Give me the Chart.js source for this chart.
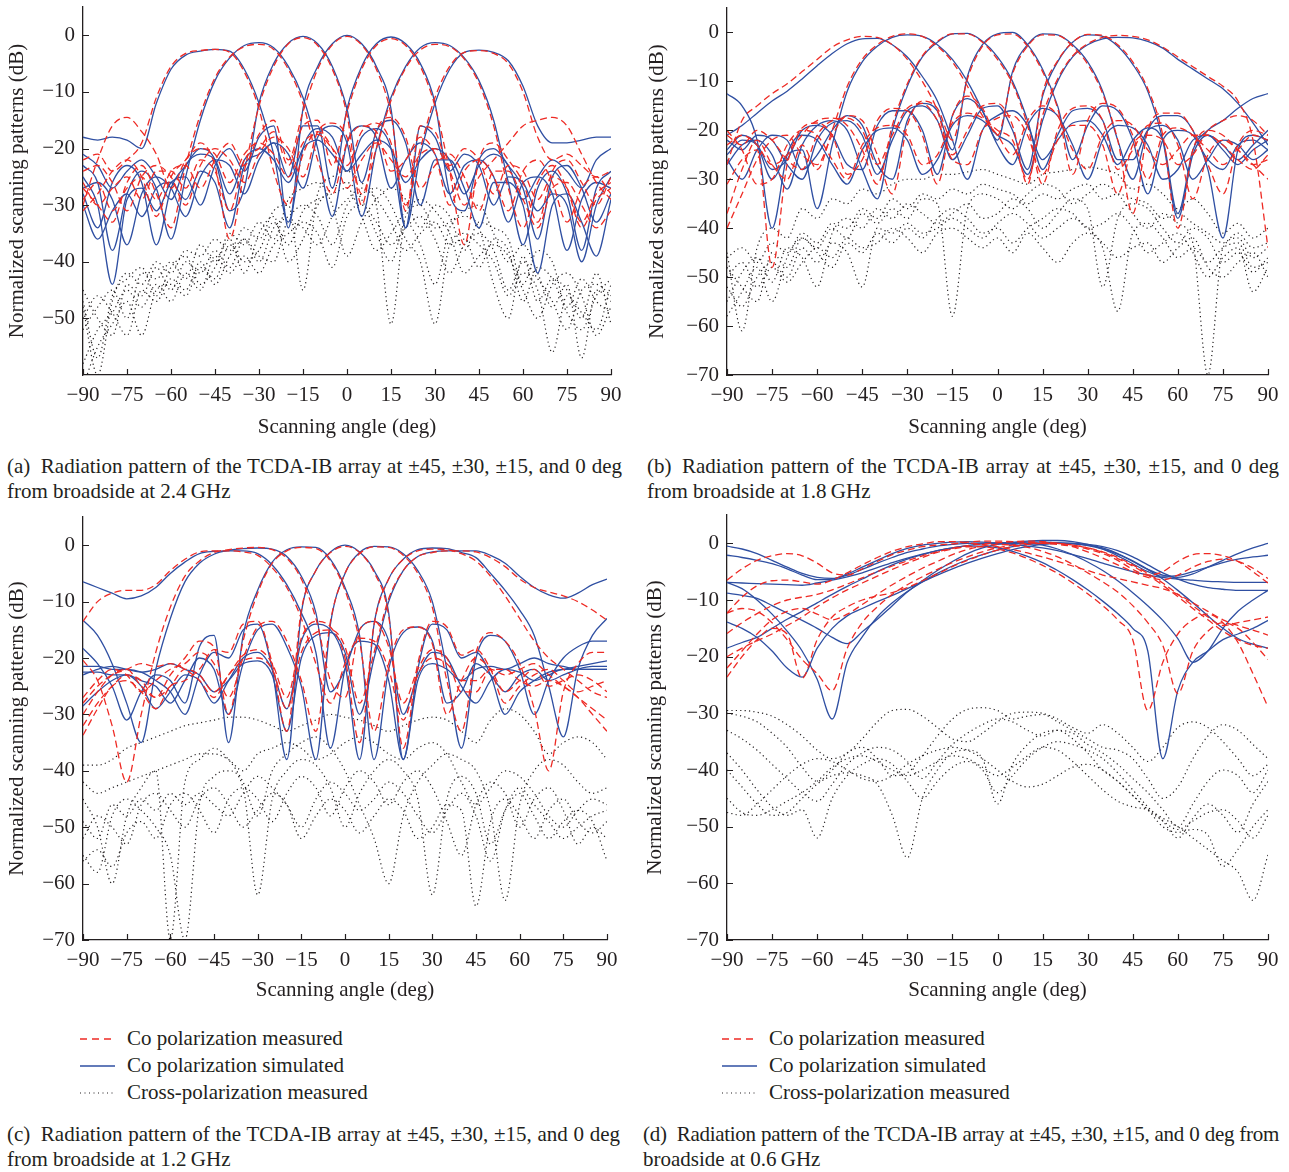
<!DOCTYPE html>
<html>
<head>
<meta charset="utf-8">
<script src="https://cdn.jsdelivr.net/npm/chart.js@4.4.1/dist/chart.umd.min.js"></script>
<style>
  body { margin: 0; width: 1289px; height: 1172px; background: #fff; position: relative; font-family: "Liberation Serif", "DejaVu Serif", serif; color: #231f20; }
  canvas { position: absolute; }
  .cap { position: absolute; font-size: 21px; line-height: 25px; }
  .cap .l1 { text-align: justify; text-align-last: justify; white-space: nowrap; }
  .cap.tight .l1 { letter-spacing: -0.3px; word-spacing: -1px; }
  .leg { position: absolute; font-size: 21px; }
  .leg div { display: flex; align-items: center; height: 27px; }
  .leg svg { margin-right: 12px; }
</style>
</head>
<body>
<canvas id="ca" width="630" height="445" style="left:0;top:0"></canvas>
<canvas id="cb" width="644" height="445" style="left:640px;top:0"></canvas>
<canvas id="cc" width="630" height="505" style="left:0;top:505px"></canvas>
<canvas id="cd" width="644" height="505" style="left:640px;top:505px"></canvas>

<div class="cap" style="left:7px;top:454px;width:615px">
  <div class="l1">(a)&ensp;Radiation pattern of the TCDA-IB array at ±45, ±30, ±15, and 0 deg</div>
  <div>from broadside at 2.4&#8201;GHz</div>
</div>
<div class="cap" style="left:647px;top:454px;width:632px">
  <div class="l1">(b)&ensp;Radiation pattern of the TCDA-IB array at ±45, ±30, ±15, and 0 deg</div>
  <div>from broadside at 1.8&#8201;GHz</div>
</div>
<div class="cap" style="left:7px;top:1122px;width:613px">
  <div class="l1">(c)&ensp;Radiation pattern of the TCDA-IB array at ±45, ±30, ±15, and 0 deg</div>
  <div>from broadside at 1.2&#8201;GHz</div>
</div>
<div class="cap tight" style="left:643px;top:1122px;width:636px">
  <div class="l1">(d)&ensp;Radiation pattern of the TCDA-IB array at ±45, ±30, ±15, and 0 deg from</div>
  <div>broadside at 0.6&#8201;GHz</div>
</div>

<div class="leg" style="left:80px;top:1025px">
  <div><svg width="35" height="10"><line x1="0" y1="5" x2="35" y2="5" stroke="#ee2a24" stroke-width="1.3" stroke-dasharray="7 5"/></svg>Co polarization measured</div>
  <div><svg width="35" height="10"><line x1="0" y1="5" x2="35" y2="5" stroke="#2f4fa2" stroke-width="1.5"/></svg>Co polarization simulated</div>
  <div><svg width="35" height="10"><line x1="0" y1="5" x2="35" y2="5" stroke="#231f20" stroke-width="1.2" stroke-dasharray="1 3.5"/></svg>Cross-polarization measured</div>
</div>
<div class="leg" style="left:722px;top:1025px">
  <div><svg width="35" height="10"><line x1="0" y1="5" x2="35" y2="5" stroke="#ee2a24" stroke-width="1.3" stroke-dasharray="7 5"/></svg>Co polarization measured</div>
  <div><svg width="35" height="10"><line x1="0" y1="5" x2="35" y2="5" stroke="#2f4fa2" stroke-width="1.5"/></svg>Co polarization simulated</div>
  <div><svg width="35" height="10"><line x1="0" y1="5" x2="35" y2="5" stroke="#231f20" stroke-width="1.2" stroke-dasharray="1 3.5"/></svg>Cross-polarization measured</div>
</div>

<script>
// scanning angle grid (deg) shared by every curve
const angles = [-90,-85,-80,-75,-70,-65,-60,-55,-50,-45,-40,-35,-30,-25,-20,-15,-10,-5,0,5,10,15,20,25,30,35,40,45,50,55,60,65,70,75,80,85,90];
const xTicks = [-90,-75,-60,-45,-30,-15,0,15,30,45,60,75,90];
const yTicksA = [0,-10,-20,-30,-40,-50];
const yTicksB = [0,-10,-20,-30,-40,-50,-60,-70];

// (a) 2.4 GHz - simulated co-pol, beams at -45..45
const a_sim_n45 = [-18,-18.5,-18,-18.5,-20,-12,-6,-3.5,-2.8, -2.5,-2.8,-6,-12,-21,-33,-20,-16.5,-18, -24, -21,-18.5,-20,-26,-22,-20,-22,-28,-23, -21,-23,-29,-25,-22,-24,-27,-22,-20];
const a_sim_n30 = [-23,-26,-38,-28,-24,-27,-36,-25,-15, -8,-4,-1.8,-1.3,-2.2,-5.5,-11,-20,-32, -19, -16,-18,-27,-22,-19,-21,-28,-23,-22, -25,-33,-26,-25,-28,-38,-29,-26,-27];
const a_sim_n15 = [-28,-34,-26,-23,-26,-37,-27,-23,-20, -22,-31,-27,-12,-5,-1.4,-0.2,-1.5,-5.5, -13, -26,-17,-15,-19,-30,-22,-22,-27,-34, -26,-26,-30,-42,-30,-28,-33,-39,-29];
const a_sim_0 = [-25,-30,-44,-29,-27,-31,-26,-25,-30, -23,-20,-24,-18,-16,-34,-13,-5.5,-1.5, 0, -1.5,-5.5,-13,-34,-16,-18,-24,-21,-23, -30,-25,-26,-31,-28,-30,-40,-30,-25];
const a_sim_p15 = [-30,-36,-31,-28,-32,-27,-26,-29,-24, -26,-34,-23,-21,-19,-25,-16,-16,-27, -13, -5.5,-1.5,-0.3,-1.5,-5,-12,-28,-31,-22, -20,-23,-27,-36,-25,-23,-27,-33,-28];
const a_sim_p30 = [-27,-26,-29,-37,-28,-25,-27,-32,-25, -22,-23,-28,-22,-19,-21,-27,-18,-16, -19, -32,-20,-11,-5.5,-2.2,-1.3,-1.8,-4,-8, -15,-26,-37,-27,-24,-28,-38,-27,-24];
const a_sim_p45 = [-21,-23,-27,-24,-22,-25,-29,-23,-21, -22,-28,-22,-20,-22,-26,-20,-18.5,-21, -24, -18,-16.5,-20,-34,-21,-12,-6,-3,-2.6, -3,-4.5,-9,-16,-19,-19,-18.5,-18,-18];
// (a) measured co-pol
const a_mea_n45 = [-22,-21,-24,-22,-19,-11,-5.5,-3.2,-2.7, -2.5,-3,-6.5,-13,-24,-30,-21,-17,-20, -27, -22,-19,-22,-25,-21,-20,-24,-30,-25, -22,-19,-16,-15,-14.5,-16,-21,-26,-29];
const a_mea_n30 = [-27,-30,-33,-26,-23,-28,-34,-23,-14, -7.5,-3.8,-2,-1.6,-2.5,-6,-12,-22,-28, -19, -16,-17,-24,-22,-18,-21,-30,-24,-22, -25,-31,-24,-22,-26,-33,-27,-25,-28];
const a_mea_n15 = [-31,-28,-24,-22,-25,-32,-25,-22,-19, -23,-36,-24,-12.5,-5.5,-1.5,-0.4,-1.8,-6, -14, -30,-17,-14.5,-18,-27,-23,-21,-25,-31, -24,-24,-29,-34,-27,-26,-30,-34,-31];
const a_mea_0 = [-29,-26,-31,-27,-25,-29,-24,-23,-27, -22,-19,-23,-17.5,-15,-22,-13.5,-6,-1.7, -0.2, -1.7,-6,-14,-31,-16,-17,-23,-20,-22, -28,-23,-24,-29,-25,-27,-33,-28,-26];
const a_mea_p15 = [-26,-30,-27,-25,-29,-24,-24,-27,-22, -24,-31,-22,-20,-17,-23,-16,-15,-23, -13.5, -6,-1.8,-0.6,-1.8,-5.5,-12.5,-24,-37,-22, -19,-22,-26,-33,-24,-22,-26,-30,-25];
const a_mea_p30 = [-24,-23,-26,-31,-25,-23,-25,-30,-23, -20,-22,-26,-21,-18,-20,-25,-17,-15.5, -18, -28,-20,-11.5,-5.8,-2.6,-1.6,-2,-4.2,-8.5, -16,-27,-34,-26,-23,-27,-34,-29,-27];
const a_mea_p45 = [-30,-22,-16,-14.5,-17,-21,-27,-22,-20, -21,-26,-21,-19,-21,-25,-19,-17.5,-20, -23, -17,-15.5,-19,-30,-20,-11,-5.5,-3,-2.7, -3.2,-5,-10,-18,-22,-21,-23,-25,-24];
// (a) measured cross-pol
const a_x1 = [-48,-60,-47,-42,-44,-40,-42,-38,-39, -36,-38,-34,-36,-31,-30,-45,-28,-25, -24, -26,-30,-51,-32,-30,-34,-33,-31,-30, -35,-40,-37,-42,-48,-44,-57,-45,-47];
const a_x2 = [-45,-50,-53,-44,-46,-41,-45,-40,-42, -38,-41,-36,-40,-34,-32,-30,-32,-37, -30, -28,-27,-30,-36,-40,-51,-37,-35,-37, -40,-46,-42,-45,-56,-46,-49,-52,-44];
const a_x3 = [-52,-48,-45,-50,-42,-43,-40,-43,-37, -40,-35,-37,-33,-36,-29,-27,-26,-30, -39, -33,-29,-27,-29,-34,-30,-32,-38,-33, -34,-36,-44,-38,-40,-48,-43,-47,-49];
const a_x4 = [-58,-52,-49,-45,-48,-44,-47,-42,-45, -39,-42,-39,-42,-37,-35,-33,-35,-41, -32, -30,-33,-37,-34,-32,-36,-42,-37,-35, -38,-45,-40,-43,-47,-52,-45,-44,-46];
const a_x5 = [-62,-55,-51,-47,-53,-45,-44,-46,-41, -43,-37,-40,-38,-33,-37,-31,-29,-28, -27, -32,-38,-35,-31,-29,-31,-35,-42,-39, -37,-39,-45,-50,-44,-42,-46,-53,-48];
const a_x6 = [-50,-46,-49,-53,-45,-47,-43,-45,-40, -44,-39,-36,-39,-40,-33,-34,-37,-32, -29, -27,-29,-33,-38,-35,-33,-37,-36,-41, -36,-38,-47,-41,-43,-49,-52,-46,-43];
const a_x7 = [-47,-57,-46,-43,-41,-46,-41,-39,-44, -41,-36,-42,-35,-32,-40,-36,-30,-27, -26, -29,-35,-40,-33,-37,-44,-34,-32,-34, -44,-50,-39,-47,-43,-45,-50,-42,-51];

// (b) 1.8 GHz
const b_sim_n45 = [-21,-19,-16.5,-14,-12,-9.5,-6.8,-4.3,-2.3, -1.3,-1.2,-2.5,-5,-9,-14,-22,-30,-20, -17, -16,-19,-26,-22,-18.5,-18,-21,-27,-22, -19.5,-22,-37,-24,-20,-18,-15.5,-13.5,-12.5];
const b_sim_n30 = [-24,-21,-23,-30,-25,-24,-36,-23,-12, -6,-2.8,-1,-0.5,-0.8,-2.5,-5.5,-10,-16, -23, -27,-19,-15.5,-17,-23,-30,-22,-19,-19.5, -23,-30,-28,-22,-21,-24,-27,-24,-22];
const b_sim_n15 = [-27,-23,-22,-25,-32,-23,-19,-18,-20, -28,-34,-20,-11,-5,-2,-0.3,-0.2,-1.8, -5, -10,-18,-28,-21,-16,-15.5,-18,-26,-26, -20,-19,-22,-30,-26,-22,-23,-26,-24];
const b_sim_0 = [-26,-30,-24,-21,-22,-28,-25,-20,-17, -19,-27,-30,-18,-14.5,-16,-24,-9,-2.5, -0.3, 0,-2.5,-7.5,-15,-26,-19,-15,-16,-22, -33,-22,-20,-21,-26,-28,-23,-22,-24];
const b_sim_p15 = [-25,-22,-23,-28,-26,-20,-19,-21,-27, -28,-19,-16,-16,-20,-29,-17,-13.5,-16, -22, -8,-2.5,-0.3,-0.5,-2.5,-6,-12,-22,-30, -20,-17,-17,-20,-28,-42,-24,-21,-22];
const b_sim_p30 = [-22,-24,-21,-22,-27,-30,-22,-18.5,-18, -21,-29,-22,-16,-15,-18,-26,-21,-15.5, -15, -20,-28,-13,-6,-2,-0.5,-0.8,-2.8,-6.5, -12,-22,-38,-25,-21,-23,-26,-23,-20];
const b_sim_p45 = [-12.5,-15,-22,-40,-25,-21,-22,-27,-31, -24,-20,-19.5,-22,-29,-26,-19,-17,-18, -21, -23,-29,-18,-10,-5,-2.5,-1.3,-1,-1.1, -1.8,-3.2,-5.5,-7.5,-9.5,-11.5,-14.5,-18.5,-23];
const b_mea_n45 = [-27,-18,-15,-12.5,-10.5,-8,-5.5,-3,-1.5, -0.8,-1,-2.5,-5.5,-10,-16,-26,-27,-20, -17.5, -17,-21,-29,-22,-19,-19,-23,-33,-23, -21,-22,-27,-25,-20,-18,-17,-18,-21];
const b_mea_n30 = [-37,-28,-22,-27,-30,-23,-28,-20,-11, -5.5,-2.5,-0.8,-0.3,-0.8,-2.8,-6,-11,-17, -21, -25,-18,-15,-17,-24,-28,-21,-18,-19, -24,-27,-24,-21,-21,-23,-26,-28,-25];
const b_mea_n15 = [-31,-26,-24,-48,-27,-21,-18,-17.5,-19, -24,-31,-19,-10.5,-4.8,-1.8,-0.3,-0.3,-2, -5.5, -10.5,-19,-31,-20,-15.5,-15,-18,-28,-24, -19,-18.5,-23,-34,-25,-22,-24,-27,-26];
const b_mea_0 = [-40,-33,-26,-22,-21,-25,-27,-21,-17, -18,-25,-33,-19,-14,-15.5,-22,-9.5,-2.8, -0.5, -0.3,-2.8,-8,-15.5,-29,-18,-14.5,-15.5,-21, -30,-21,-19.5,-21,-24,-27,-24,-21,-22];
const b_mea_p15 = [-23,-21,-23,-27,-25,-19.5,-18.5,-21,-29, -26,-18,-15.5,-16,-21,-31,-17,-13,-15.5, -21, -8.5,-2.8,-0.5,-0.6,-2.8,-6.5,-12.5,-22,-37, -20,-16.5,-16.5,-20,-27,-33,-23,-20,-21];
const b_mea_p30 = [-21,-23,-20,-22,-26,-28,-21,-18,-17.5, -20,-27,-21,-15.5,-14.5,-18,-25,-20,-15, -14.5, -19,-31,-12.5,-5.8,-2,-0.4,-0.6,-2.5,-6, -11.5,-21,-40,-24,-20,-21,-24,-27,-30];
const b_mea_p45 = [-20,-24,-31,-30,-23,-20,-21,-26,-30, -23,-19.5,-19,-21,-27,-25,-18.5,-16.5,-17.5, -20, -22,-30,-17,-9.5,-4.8,-2.3,-1,-0.6,-0.8, -1.5,-3,-5,-7,-9,-11,-14,-22,-44];
const b_x1 = [-45,-61,-44,-40,-42,-36,-38,-34,-35, -32,-33,-31,-30,-30,-29,-29,-28.5,-28, -29, -30,-31,-29,-28.5,-28,-27.5,-28,-29,-32, -31,-33,-36,-34,-37,-41,-39,-42,-40];
const b_x2 = [-48,-52,-55,-45,-48,-42,-44,-40,-42, -37,-39,-36,-38,-34,-35,-58,-36,-33, -34, -36,-33,-31,-32,-35,-33,-31,-33,-37, -40,-37,-39,-43,-70,-44,-42,-46,-44];
const b_x3 = [-55,-49,-46,-51,-44,-46,-52,-41,-38, -40,-36,-38,-35,-37,-39,-37,-35,-38, -37, -34,-36,-40,-37,-34,-36,-52,-38,-35, -36,-40,-43,-40,-42,-47,-45,-49,-46];
const b_x4 = [-52,-56,-50,-47,-50,-44,-47,-43,-45, -52,-40,-41,-39,-41,-40,-38,-40,-42, -39, -37,-39,-42,-40,-38,-40,-44,-57,-41, -39,-42,-46,-44,-47,-44,-43,-48,-47];
const b_x5 = [-58,-53,-48,-55,-46,-42,-45,-48,-43, -45,-41,-43,-40,-42,-38,-36,-38,-41, -40, -43,-40,-38,-36,-37,-40,-39,-37,-40, -45,-43,-41,-45,-50,-46,-44,-53,-48];
const b_x6 = [-50,-47,-52,-48,-51,-47,-44,-46,-42, -44,-43,-40,-42,-45,-41,-40,-42,-44, -42, -45,-41,-44,-47,-43,-41,-43,-46,-44, -43,-47,-44,-42,-48,-50,-47,-45,-50];
const b_x7 = [-46,-44,-47,-43,-45,-41,-43,-39,-40, -36,-38,-34,-36,-33,-34,-32,-33,-31, -32, -33,-35,-33,-34,-32,-31,-34,-33,-34, -35,-38,-37,-39,-41,-43,-41,-44,-43];

// (c) 1.2 GHz
const c_sim_n45 = [-6.5,-7.5,-8.5,-9.5,-9,-7.5,-5,-3,-1.5, -1.1,-1,-1,-1.5,-3.5,-7,-12,-19,-36, -22, -17,-17.5,-24,-38,-24,-21,-22,-24,-22, -21.5,-22,-21,-20,-21,-21.5,-22,-22,-22];
const c_sim_n30 = [-13.3,-16,-21,-28,-35,-22,-13,-6.5,-3.2, -1.6,-0.9,-0.6,-0.5,-0.7,-2,-5.5,-12,-26, -22, -15,-13.5,-17,-30,-23,-19,-20,-25,-28, -24,-22,-22.5,-24,-23,-22,-22,-22,-22];
const c_sim_n15 = [-18.3,-21,-25,-31,-26,-23,-24,-28,-18, -16,-35,-16,-8,-3,-0.8,-0.3,-0.4,-2.5, -7.5, -16,-38,-22,-15.5,-14.5,-17,-28,-26,-21, -23,-26,-23,-22,-24,-23,-22,-21.5,-21.5];
const c_sim_0 = [-21.5,-21.5,-22,-22,-22.5,-24,-26,-30,-23, -19,-20,-15,-14,-22,-38,-12,-4.5,-1.2, 0, -1.2,-4.5,-12,-38,-22,-14,-15,-20,-19, -23,-30,-26,-24,-22.5,-22,-21.5,-21,-20.5];
const c_sim_p15 = [-22.5,-22.5,-23,-23,-24,-25,-28,-24,-20, -22,-30,-21,-15,-14,-18,-25,-38,-14, -5, -1.3,-0.2,-0.3,-1.5,-4.5,-10,-22,-36,-20, -16,-17,-22,-30,-24,-20,-18,-17,-17];
const c_sim_p30 = [-28.5,-26,-24,-23,-25,-29,-26,-23,-24, -28,-24,-20,-19,-22,-29,-17,-14,-15, -21, -38,-14,-6,-2.5,-0.8,-0.5,-0.6,-1.3,-2.2, -5,-8,-11.5,-16,-25,-34,-22,-16,-13];
const c_sim_p45 = [-23,-22,-21.5,-22,-22.5,-22,-21,-22,-23, -26,-24,-21,-20.5,-23,-33,-20,-16,-15.5, -19, -30,-20,-10,-4.5,-2,-1.2,-1,-1,-1, -1.8,-3.2,-5.5,-7.5,-8.8,-9.4,-8.5,-7,-6];
const c_mea_n45 = [-13.5,-10,-8.5,-8,-8,-7,-4.5,-2.5,-1.2, -1,-1,-1.2,-1.8,-4,-7.5,-13,-21,-28, -21, -16.5,-17,-22,-31,-23,-20,-21,-24,-24, -22,-23,-22,-21,-23,-25,-27,-29,-31];
const c_mea_n30 = [-20.4,-24,-32,-42,-30,-19,-11,-5.5,-2.8, -1.3,-0.8,-0.5,-0.4,-0.8,-2.3,-6,-13,-24, -27, -15,-13.5,-18,-28,-22,-18.5,-20,-26,-26, -22,-22,-24,-25,-24,-25,-27,-30,-33];
const c_mea_n15 = [-30,-26,-23,-22,-25,-27,-23,-20,-17, -18,-30,-17,-8.5,-3.2,-1,-0.4,-0.6,-2.8, -8, -17,-33,-21,-15,-14.5,-17.5,-30,-24,-20, -22,-26,-24,-22,-25,-24,-23,-24,-26];
const c_mea_0 = [-33.7,-29,-25,-24,-26,-29,-25,-24,-22, -18.5,-19,-14,-13.5,-21,-33,-11.5,-4.5,-1.3, -0.2, -1.3,-4.8,-12.5,-36,-21,-13.5,-14.5,-19.5,-18.5, -22,-28,-25,-23,-22,-24,-26,-25,-24];
const c_mea_p15 = [-27,-24,-22,-23,-26,-24,-22,-21,-19, -21,-27,-20,-14.5,-13.5,-17,-24,-33,-13.5, -5, -1.5,-0.3,-0.4,-1.8,-5,-11,-24,-33,-19, -15.5,-17,-21,-29,-40,-26,-21,-19,-19];
const c_mea_p30 = [-32,-28,-25,-23,-24,-27,-25,-22,-23, -26,-23,-19.5,-18.5,-21,-27,-16.5,-13.5,-14.5, -20, -35,-14,-6,-2.5,-1,-0.7,-0.8,-1.5,-2.8, -5.5,-9,-13,-17,-20,-22,-24,-26,-27];
const c_mea_p45 = [-28,-25,-23,-22,-21,-21.5,-21,-22,-24, -27,-23,-20.5,-20,-22,-29,-19,-15.5,-15, -18, -28,-19,-9.5,-4.5,-2,-1.3,-1,-1,-1.2, -2.2,-3.8,-6,-7.5,-8.3,-9,-10,-11.5,-13.3];
const c_x1 = [-39,-39,-38,-36,-35,-34,-33,-32,-31.5, -31,-30.5,-30.5,-31,-32,-33,-32,-31,-30, -30.5, -31,-32,-33,-32,-31,-30.5,-31,-33,-35, -31,-29,-30,-33,-37,-35,-34,-35,-38];
const c_x2 = [-45,-50,-60,-48,-43,-40,-70,-42,-38, -36,-38,-42,-48,-40,-37,-35,-34,-36, -40, -46,-52,-60,-48,-42,-39,-37,-38,-40, -47,-63,-46,-40,-38,-39,-42,-44,-43];
const c_x3 = [-55,-58,-48,-45,-47,-50,-55,-70,-46, -41,-40,-43,-62,-45,-40,-38,-39,-43, -50, -44,-40,-38,-40,-45,-62,-45,-41,-44, -53,-47,-44,-48,-52,-49,-47,-49,-56];
const c_x4 = [-49,-52,-46,-48,-45,-47,-44,-46,-44, -46,-48,-44,-41,-43,-46,-50,-45,-42, -44, -47,-45,-42,-44,-48,-51,-47,-44,-48, -56,-47,-43,-46,-49,-52,-50,-48,-47];
const c_x5 = [-52,-48,-50,-53,-46,-44,-47,-50,-45, -43,-46,-50,-47,-44,-46,-52,-48,-45, -47, -51,-48,-45,-47,-52,-50,-46,-47,-64, -49,-45,-48,-52,-47,-45,-49,-51,-49];
const c_x6 = [-42,-44,-43,-42,-41,-40,-39,-38,-37, -37,-38,-40,-37,-36,-35,-36,-38,-37, -35, -34,-35,-37,-38,-36,-35,-37,-42,-46, -43,-40,-41,-44,-48,-50,-47,-45,-46];
const c_x7 = [-56,-54,-57,-51,-49,-52,-46,-44,-47, -51,-45,-43,-45,-49,-44,-41,-43,-48, -43, -40,-42,-46,-42,-40,-43,-49,-55,-46, -42,-44,-50,-45,-43,-47,-53,-50,-52];

// (d) 0.6 GHz
const d_sim_n45 = [-18.5,-17.5,-16.6,-15,-13.4,-12,-10.5,-9,-7.6, -6.3,-5,-3.8,-2.8,-2,-1.3,-0.8,-0.5,-0.5, -0.8, -1.4,-2.3,-3.4,-4.8,-6.4,-8.2,-10.2,-12.4,-15, -19,-38,-26,-21,-19,-17,-16,-15,-13.6];
const d_sim_n30 = [-8.8,-9.2,-9.7,-11,-12.3,-13.6,-15,-16.6,-17.7, -15.6,-13.4,-11,-8.6,-6.6,-4.8,-3.2,-1.8,-0.8, -0.2, 0,0,-0.3,-1,-2,-3.3,-4.8,-6.6,-8.7, -11,-13.6,-16.8,-21,-19,-15,-12,-10,-8.3];
const d_sim_n15 = [-2.1,-2.5,-3,-3.6,-4.5,-5.6,-6.4,-6.3,-5.4, -4.2,-3,-1.8,-0.9,-0.3,0,0.2,0.3,0.2, 0, -0.2,-0.5,-0.8,-1.3,-2,-2.7,-3.5,-4.3,-5, -5.6,-6,-6.3,-6.5,-6.7,-6.8,-6.9,-6.9,-6.9];
const d_sim_0 = [-0.5,-1,-1.8,-3,-4.2,-5.3,-6,-6.2,-5.6, -4.6,-3.5,-2.5,-1.6,-1,-0.5,-0.2,0,0, 0.1, 0.1,0.2,0.2,0.1,0,-0.3,-0.8,-1.8,-3.2, -4.6,-5.6,-6,-5.4,-4.2,-3,-1.8,-0.8,0];
const d_sim_p15 = [-6.9,-7,-7.1,-7.2,-7.3,-7.4,-7,-6.5,-5.9, -5.2,-4.3,-3.4,-2.6,-1.9,-1.3,-0.8,-0.4,-0.1, 0, 0.2,0.4,0.5,0.5,0.3,-0.2,-1,-2.2,-3.6, -5,-5.8,-5.7,-5,-4.2,-3.4,-2.8,-2.4,-2.1];
const d_sim_p30 = [-13.9,-15,-16.6,-19,-22,-23.6,-18.5,-15,-12.8, -11.5,-10.3,-9.2,-8,-6.8,-5.6,-4.5,-3.5,-2.6, -1.8, -1.1,-0.6,-0.2,0,0,-0.2,-0.6,-1.3,-2.4, -3.8,-5.2,-6.3,-7.2,-7.8,-8.1,-8.3,-8.3,-8.3];
const d_sim_p45 = [-6.9,-8,-10,-12.5,-15.5,-19,-24,-31,-21, -16.5,-13,-10.5,-8.5,-6.8,-5.3,-4,-2.9,-2, -1.2, -0.6,-0.2,0,0,-0.1,-0.4,-1,-1.9,-3.1, -4.6,-6.3,-8.3,-10.5,-12.8,-15,-16.8,-17.8,-18.5];
const d_mea_n45 = [-20,-18.5,-17.2,-16,-14.5,-13,-11.2,-9.6,-8.2, -7,-5.8,-4.6,-3.5,-2.5,-1.6,-1,-0.6,-0.6, -1, -1.7,-2.7,-3.9,-5.3,-7,-8.9,-11,-13.5,-17, -29.5,-21,-16,-13.5,-12.5,-14,-17.5,-23,-28.9];
const d_mea_n30 = [-22,-19,-16,-13.5,-12,-11.5,-12.5,-13.5,-12.5, -10.8,-9,-7.3,-5.8,-4.4,-3.2,-2,-1.1,-0.5, -0.2, -0.3,-0.7,-1.4,-2.4,-3.7,-5.2,-6.8,-8.6,-11, -14,-18,-26.5,-19,-15.5,-14,-15,-17.5,-20.5];
const d_mea_n15 = [-12.3,-9.5,-7.5,-6.6,-6.5,-6.8,-7.2,-6.5,-5.2, -3.8,-2.5,-1.4,-0.6,-0.1,0.3,0.3,0.1,-0.2, -0.6, -1.1,-1.7,-2.4,-3.2,-4,-4.8,-5.6,-6.2,-6.8, -7.4,-8,-9,-10.5,-12,-13.5,-14.5,-15.3,-16.2];
const d_mea_0 = [-6.5,-4.5,-3,-2.2,-1.8,-2.2,-3.5,-5.2,-5.6, -4.5,-3.2,-2,-1.2,-0.6,-0.3,-0.1,0.2,0.4, 0.4, 0.3,0.2,0,-0.2,-0.5,-1,-1.8,-3,-4.6, -5.6,-5,-3.2,-2,-1.8,-2.2,-3.2,-5,-7];
const d_mea_p15 = [-15.9,-14,-12.4,-11,-10,-9.5,-9,-8.2,-7.2, -6.1,-5,-4,-3.1,-2.2,-1.5,-0.9,-0.4,-0.1, 0.1, 0.3,0.4,0.3,0,-0.6,-1.5,-2.6,-3.8,-5, -6,-6.4,-5.6,-4.2,-3.2,-2.8,-3.2,-4.4,-6.2];
const d_mea_p30 = [-23.6,-20,-17,-15,-16,-23.8,-17,-13,-11.2, -10,-9.3,-8.7,-7.8,-6.6,-5.4,-4.1,-3,-2, -1.2, -0.6,-0.2,0,0,-0.3,-0.8,-1.5,-2.5,-3.8, -5.3,-7,-9,-11,-13,-14.5,-14,-13.5,-13];
const d_mea_p45 = [-12.3,-11.5,-12,-14,-17,-20.5,-23,-26,-18.5, -14,-11.2,-9,-7.3,-5.9,-4.6,-3.4,-2.4,-1.5, -0.8, -0.3,0,0.1,0,-0.3,-0.8,-1.6,-2.7,-4, -5.6,-7.4,-9.4,-11.5,-13.5,-15.5,-17,-18,-18.5];
const d_x1 = [-29.5,-29.5,-29.8,-30.5,-32,-34,-36.5,-38,-37, -34.5,-31.5,-29.5,-29.3,-30.5,-32.5,-34.5,-35,-33.5, -31.5, -30,-29.8,-30,-31,-32.5,-33.5,-32,-33.5,-36, -38.5,-36,-32.5,-31.5,-32.5,-35,-38,-41,-39];
const d_x2 = [-30,-30.5,-31.5,-33.5,-36,-39.5,-42,-40,-37, -36,-38,-41,-40.5,-37.5,-34,-31,-29.3,-29, -29.5, -31,-30.5,-30.2,-31.5,-33,-34.5,-36,-36.5,-38, -41.5,-45,-43,-38,-34,-32,-33,-35.5,-38];
const d_x3 = [-33,-34.5,-36.5,-39,-41.5,-44,-45.5,-42.5,-39, -37,-36,-36.5,-38.5,-41.5,-38.5,-35.5,-33.5,-32, -31, -31.5,-33,-34,-33,-33.5,-35.5,-37,-39,-41.5, -44,-47,-50,-46,-42,-40,-41,-44,-40];
const d_x4 = [-37,-40,-43.5,-46.5,-48,-47,-52,-45,-41, -39,-38,-39,-42,-45,-42,-39.5,-38.5,-40, -44, -41,-38,-36,-35,-35.5,-36.5,-38,-40.5,-43.5, -46.5,-49,-52,-48.5,-46,-48,-51,-46,-42];
const d_x5 = [-40,-43,-46,-48,-47.5,-45,-42.5,-41,-40.5, -41,-42.5,-48,-55.5,-45,-40,-37,-36.5,-38, -46, -39,-35.5,-33.5,-33,-34.5,-37,-40,-42,-44.5, -47,-50,-51,-50.5,-51.5,-57,-54,-50,-47];
const d_x6 = [-45,-47.5,-48,-47,-45.5,-44,-42,-39.5,-38, -37.5,-38.5,-40,-41,-40,-38.5,-37.5,-38,-39.5, -41, -39.5,-37.5,-36,-36.5,-38.5,-41,-43.5,-45.5,-46.5, -47,-48.5,-50,-52,-54,-56,-58,-63,-55];
const d_x7 = [-47.5,-48,-46,-43.5,-41,-39,-38,-38.5,-40, -41.5,-42,-41,-39,-37.5,-36.5,-36,-36.5,-38, -40, -42,-43,-42.5,-41,-39.5,-39,-40,-42,-44.5, -47,-49,-50.5,-49,-47.5,-47,-49,-52,-48];

const INK = '#231f20';
const SIM = '#2f4fa2';
const MEA = '#ee2a24';
const FONT = { family: "'Liberation Serif', 'DejaVu Serif', serif", size: 21 };

function fmt(v) {
  return v < 0 ? '\u2212' + Math.abs(v) : String(v);
}

function series(arr) {
  return angles.map((a, i) => ({ x: a, y: arr[i] }));
}

// tick marks drawn inward, like the original plot
const inwardTicks = {
  id: 'inwardTicks',
  afterDatasetsDraw(chart) {
    const { ctx, chartArea, scales } = chart;
    ctx.save();
    ctx.strokeStyle = INK;
    ctx.lineWidth = 1.2;
    ctx.beginPath();
    scales.x.ticks.forEach(t => {
      const px = Math.round(scales.x.getPixelForValue(t.value)) + 0.5;
      ctx.moveTo(px, chartArea.bottom);
      ctx.lineTo(px, chartArea.bottom - 6);
    });
    scales.y.ticks.forEach(t => {
      const py = Math.round(scales.y.getPixelForValue(t.value)) + 0.5;
      ctx.moveTo(chartArea.left, py);
      ctx.lineTo(chartArea.left + 6, py);
    });
    ctx.stroke();
    ctx.restore();
  }
};

function makeChart(id, sim, mea, cross, yMin, yTicks, cfg) {
  const datasets = [];
  mea.forEach(s => datasets.push({ data: series(s), borderColor: MEA, borderWidth: 1.3, borderDash: [7, 4] }));
  sim.forEach(s => datasets.push({ data: series(s), borderColor: SIM, borderWidth: 1.3 }));
  cross.forEach(s => datasets.push({ data: series(s), borderColor: INK, borderWidth: 1.2, borderDash: [1.2, 3.2] }));

  new Chart(document.getElementById(id), {
    type: 'line',
    data: { datasets },
    plugins: [inwardTicks],
    options: {
      responsive: false,
      animation: false,
      layout: { padding: { top: cfg.top, right: cfg.right, left: 0, bottom: 0 } },
      elements: {
        point: { radius: 0 },
        line: { tension: 0.3, cubicInterpolationMode: 'monotone', fill: false }
      },
      plugins: { legend: { display: false }, tooltip: { enabled: false } },
      scales: {
        x: {
          type: 'linear', min: -90, max: 90,
          afterBuildTicks: s => { s.ticks = xTicks.map(v => ({ value: v })); },
          afterFit: s => { s.height = 70; s.paddingLeft = 0; s.paddingRight = 0; },
          grid: { display: false, drawTicks: false },
          border: { display: true, color: INK, width: 1.3 },
          ticks: { color: INK, font: FONT, padding: 8, maxRotation: 0, autoSkip: false, callback: v => fmt(v) },
          title: { display: true, text: 'Scanning angle (deg)', color: INK, font: FONT, padding: { top: 0, bottom: cfg.xtb } }
        },
        y: {
          type: 'linear', min: yMin, max: 5,
          afterBuildTicks: s => { s.ticks = yTicks.map(v => ({ value: v })); },
          afterFit: s => { s.width = cfg.yw; s.paddingTop = 0; s.paddingBottom = 0; },
          grid: { display: false, drawTicks: false },
          border: { display: true, color: INK, width: 1.3 },
          ticks: { color: INK, font: FONT, padding: 8, autoSkip: false, callback: v => fmt(v) },
          title: { display: true, text: 'Normalized scanning patterns (dB)', color: INK, font: FONT, padding: { top: cfg.ytt, bottom: 0 } }
        }
      }
    }
  });
}

makeChart('ca',
  [a_sim_n45, a_sim_n30, a_sim_n15, a_sim_0, a_sim_p15, a_sim_p30, a_sim_p45],
  [a_mea_n45, a_mea_n30, a_mea_n15, a_mea_0, a_mea_p15, a_mea_p30, a_mea_p45],
  [a_x1, a_x2, a_x3, a_x4, a_x5, a_x6, a_x7],
  -60, yTicksA, { top: 7, right: 19, yw: 83, ytt: 5, xtb: 5 });

makeChart('cb',
  [b_sim_n45, b_sim_n30, b_sim_n15, b_sim_0, b_sim_p15, b_sim_p30, b_sim_p45],
  [b_mea_n45, b_mea_n30, b_mea_n15, b_mea_0, b_mea_p15, b_mea_p30, b_mea_p45],
  [b_x1, b_x2, b_x3, b_x4, b_x5, b_x6, b_x7],
  -70, yTicksB, { top: 8, right: 16, yw: 87, ytt: 5, xtb: 5 });

makeChart('cc',
  [c_sim_n45, c_sim_n30, c_sim_n15, c_sim_0, c_sim_p15, c_sim_p30, c_sim_p45],
  [c_mea_n45, c_mea_n30, c_mea_n15, c_mea_0, c_mea_p15, c_mea_p30, c_mea_p45],
  [c_x1, c_x2, c_x3, c_x4, c_x5, c_x6, c_x7],
  -70, yTicksB, { top: 12, right: 23, yw: 83, ytt: 5, xtb: 7 });

makeChart('cd',
  [d_sim_n45, d_sim_n30, d_sim_n15, d_sim_0, d_sim_p15, d_sim_p30, d_sim_p45],
  [d_mea_n45, d_mea_n30, d_mea_n15, d_mea_0, d_mea_p15, d_mea_p30, d_mea_p45],
  [d_x1, d_x2, d_x3, d_x4, d_x5, d_x6, d_x7],
  -70, yTicksB, { top: 10, right: 16, yw: 87, ytt: 3, xtb: 7 });
</script>
</body>
</html>
